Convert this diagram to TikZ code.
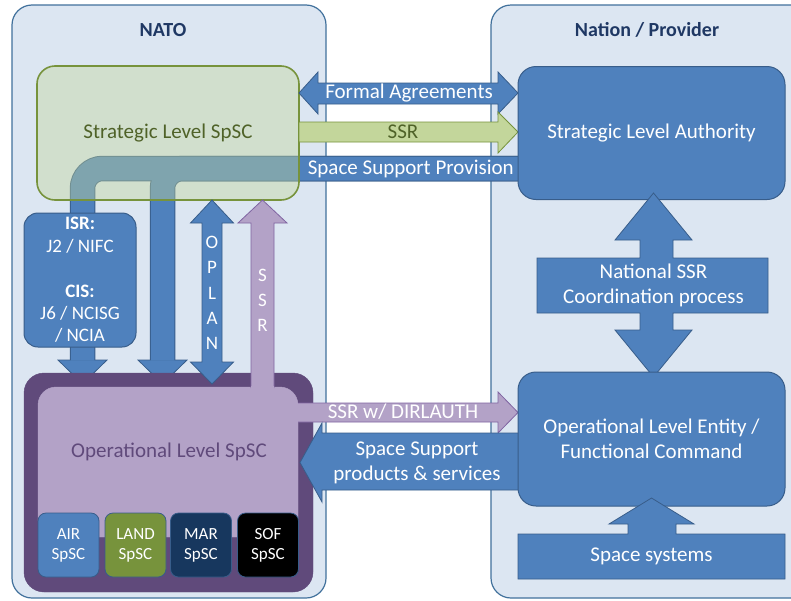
\documentclass[tikz,border=0pt]{standalone}
\usepackage{fontspec}
\setmainfont{Carlito}
\definecolor{bgfill}{HTML}{DCE6F2}
\definecolor{bgline}{HTML}{41719C}
\definecolor{blu}{HTML}{4F81BD}
\definecolor{bluline}{HTML}{385D8A}
\definecolor{grnarrow}{HTML}{C3D69B}
\definecolor{grnline}{HTML}{77933C}
\definecolor{grntext}{HTML}{4F6228}
\definecolor{purfill}{HTML}{B3A2C7}
\definecolor{purline}{HTML}{8064A2}
\definecolor{purdark}{HTML}{604A7B}
\definecolor{navy}{HTML}{17375E}
\definecolor{navytext}{HTML}{1F3864}
\definecolor{landgreen}{HTML}{77933C}
\tikzset{
  box/.style={inner sep=0pt, outer sep=0pt, align=center, font=\fontsize{21}{25}\selectfont},
  region/.style={box, fill=bgfill, draw=bgline, line width=1.2pt, rounded corners=20pt},
  bluebox/.style={box, fill=blu, draw=bluline, line width=1pt, text=white, rounded corners=18pt},
  bluarrow/.style={fill=blu, draw=bluline, line width=0.8pt, line join=miter},
  purarrow/.style={fill=purfill, draw=purline, line width=0.8pt, line join=miter},
  grnarr/.style={fill=grnarrow, draw=grnline, line width=0.8pt, line join=miter},
  smallbox/.style={box, draw=bluline, line width=0.8pt, rounded corners=8pt, text=white,
    minimum width=61pt, minimum height=64pt, font=\fontsize{17}{20}\selectfont},
  lbl/.style={inner sep=0pt, font=\fontsize{21}{25}\selectfont, align=center},
  title/.style={inner sep=0pt, font=\fontsize{20}{24}\selectfont\bfseries, text=navytext}
}
\begin{document}
\begin{tikzpicture}[x=1pt, y=-1pt]
\useasboundingbox (0,0) rectangle (791,600);
\clip (0,0) rectangle (791,600);
\fill[white] (0,0) rectangle (791,600);

% regions
\node[region, minimum width=314pt, minimum height=593pt] (nato) at (169,301.5) {};
\node[region, minimum width=350pt, minimum height=593pt] (nation) at (666,301.5) {};
\node[title] (natot) at (163,30) {NATO};
\node[title] (nationt) at (647,30) {Nation / Provider};

% Space Support Provision bands (behind strategic box)
\coordinate (b1s) at (82.5,360.5);
\coordinate (b2s) at (162.5,360.5);
\coordinate (bend) at (518,168.5);
\draw[bluline, line width=25.5pt, rounded corners=20pt] (b1s) -- (82.5,168.5) -- (bend);
\draw[bluline, line width=25.5pt, rounded corners=20pt] (b2s) -- (162.5,168.5) -- (bend);
\draw[bluarrow] (58,360) -- (107,360) -- (82.5,384) -- cycle;
\draw[bluarrow] (138,360) -- (187,360) -- (162.5,384) -- cycle;
\draw[blu, line width=23.5pt, rounded corners=20pt] (b1s) -- (82.5,168.5) -- (bend);
\draw[blu, line width=23.5pt, rounded corners=20pt] (b2s) -- (162.5,168.5) -- (bend);

% strategic level SpSC (semi-transparent)
\node[box, fill=grnarrow, fill opacity=0.42, text opacity=1, draw=grnline, line width=1.6pt,
  rounded corners=18pt, minimum width=262pt, minimum height=134pt, text=grntext] (strat) at (168,133) {};
\node[lbl, text=grntext] (stratt) at (168,133) {Strategic Level SpSC};

\node[lbl, text=white, anchor=east] (ssp) at (514,169) {Space Support Provision};

% Formal agreements
\draw[bluarrow] (299,93) -- (318,72) -- (318,83) -- (498,83) -- (498,72) -- (518,93)
  -- (498,114) -- (498,104) -- (318,104) -- (318,114) -- cycle;
\node[lbl, text=white] (fa) at (409,93) {Formal Agreements};

% SSR green
\draw[grnarr] (299,122) -- (498,122) -- (498,112) -- (518,132) -- (498,153) -- (498,142) -- (299,142) -- cycle;
\node[lbl, text=grntext] (ssrg) at (403,132) {SSR};

% Strategic authority
\node[bluebox, minimum width=267pt, minimum height=133pt] (auth) at (651.5,133) {};
\node[lbl, text=white] (autht) at (651.5,133) {Strategic Level Authority};

% ISR box
\node[bluebox, rounded corners=14pt, minimum width=112pt, minimum height=134pt,
  font=\fontsize{19}{22.4}\selectfont] (isr) at (80,280)
  {\textbf{ISR:}\\J2 / NIFC\\[22.4pt]\textbf{CIS:}\\J6 / NCISG\\/ NCIA};

% Operational level SpSC
\node[box, fill=purdark, draw=purdark, rounded corners=20pt, minimum width=289pt, minimum height=219pt] (opout) at (168.5,482.5) {};
\node[box, fill=purfill, draw=purfill, rounded corners=18pt, minimum width=260pt, minimum height=150pt, text=purdark] (opin) at (168,462) {};
\node[lbl, text=purdark] (opt) at (169,452) {Operational Level SpSC};

\node[smallbox, fill=blu] (air) at (68.5,545) {AIR\\SpSC};
\node[smallbox, fill=landgreen] (land) at (135.5,545) {LAND\\SpSC};
\node[smallbox, fill=navy] (mar) at (201,545) {MAR\\SpSC};
\node[smallbox, fill=black] (sof) at (268,545) {SOF\\SpSC};

% OPLAN double arrow
\draw[bluarrow] (212,200) -- (233.5,223) -- (222,223) -- (222,362) -- (233.5,362) -- (212,384)
  -- (190.5,362) -- (202,362) -- (202,223) -- (190.5,223) -- cycle;
\node[lbl, text=white, font=\fontsize{19}{25.3}\selectfont] (oplan) at (212,293) {O\\P\\L\\A\\N};

% SSR purple up arrow
\draw[purarrow] (251,388) -- (251,223) -- (238,223) -- (262.5,200) -- (287,223) -- (274,223) -- (274,388);
\fill[purfill] (251.4,386) rectangle (273.6,390);
\node[lbl, text=white, font=\fontsize{19}{25}\selectfont] (ssrv) at (262.5,300) {S\\S\\R};

% SSR w/ DIRLAUTH
\draw[purarrow] (298,403) -- (498,403) -- (498,392) -- (518,412.5) -- (498,433) -- (498,422) -- (298,422);
\node[lbl, text=white] (dirl) at (403,412) {SSR w/ DIRLAUTH};

% Space Support products & services
\draw[bluarrow] (518,433) -- (322,433) -- (322,423) -- (300,462.5) -- (322,502) -- (322,490) -- (518,490);
\node[lbl, text=white] (ssps) at (417,463) {Space Support\\products \& services};

% National SSR coordination
\draw[bluarrow] (653.5,193) -- (692,240) -- (673,240) -- (673,258) -- (768,258) -- (768,313)
  -- (673,313) -- (673,330) -- (692,330) -- (653.5,377) -- (615,330) -- (640,330) -- (640,313)
  -- (537,313) -- (537,258) -- (640,258) -- (640,240) -- (615,240) -- cycle;
\node[lbl, text=white] (nssr) at (653.5,285.5) {National SSR\\Coordination process};

% Operational entity
\node[bluebox, minimum width=267pt, minimum height=134pt] (opent) at (651.5,439) {};
\node[lbl, text=white] (opentt) at (651.5,439) {Operational Level Entity /\\Functional Command};

% Space systems
\draw[bluarrow] (518,579) -- (518,534) -- (628,534) -- (628,524) -- (609,524) -- (651.5,498)
  -- (694,524) -- (676,524) -- (676,534) -- (785,534) -- (785,579) -- cycle;
\node[lbl, text=white] (ss) at (651.5,556) {Space systems};
\end{tikzpicture}
\end{document}
